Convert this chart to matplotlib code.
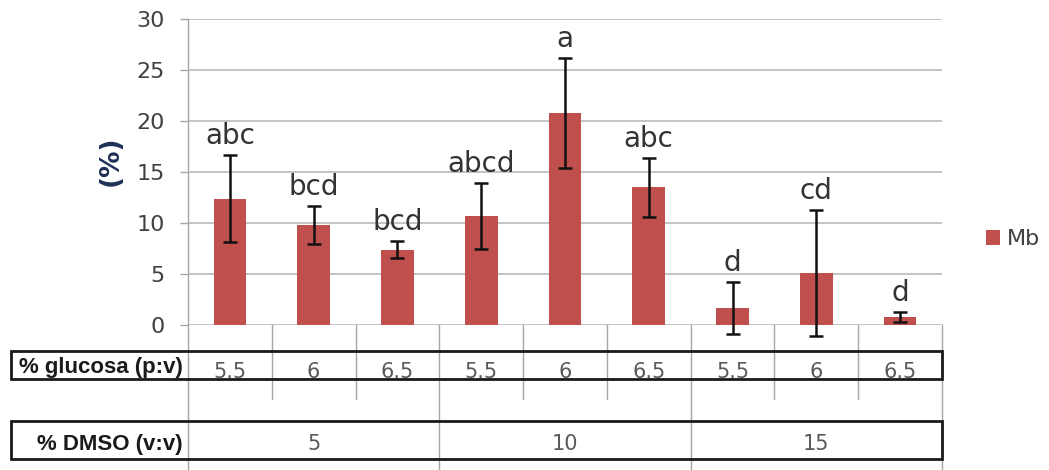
import matplotlib
matplotlib.use("Agg")
import matplotlib.pyplot as plt
import matplotlib.transforms as mtransforms
from matplotlib.patches import Rectangle
from matplotlib.lines import Line2D

# Mb yield per treatment (mean and error), with significance letters
means = [12.4, 9.8, 7.4, 10.7, 20.8, 13.5, 1.7, 5.1, 0.75]
errors = [4.25, 1.9, 0.85, 3.25, 5.4, 2.9, 2.55, 6.2, 0.5]
letters = ["abc", "bcd", "bcd", "abcd", "a", "abc", "d", "cd", "d"]
glucosa = ["5.5", "6", "6.5", "5.5", "6", "6.5", "5.5", "6", "6.5"]
dmso = ["5", "10", "15"]
series_name = "Mb"

W, H = 1049, 470
fig = plt.figure(figsize=(W / 100, H / 100), dpi=100)
ax = fig.add_axes([188 / W, 1 - 325 / H, (942 - 188) / W, (325 - 19) / H])

bar_color = "#C0504D"
grid_color = "#BFBFBF"
sep_color = "#A6A6A6"
text_dark = "#404040"

x = list(range(len(means)))
ax.bar(x, means, width=0.39, color=bar_color, label=series_name, zorder=3)
eb = ax.errorbar(x, means, yerr=errors, fmt="none", ecolor="#111111",
                 elinewidth=1.8, capsize=5, capthick=1.8, zorder=4)
for artist in eb.lines[1]:
    artist.set_clip_on(False)
for coll in eb.lines[2]:
    coll.set_clip_on(False)

for xi, m, e, lab in zip(x, means, errors, letters):
    ax.annotate(lab, (xi, m + e), xytext=(0, 8), textcoords="offset points",
                ha="center", va="baseline", fontsize=20, color="#333333")

ax.set_xlim(-0.5, len(means) - 0.5)
ax.set_ylim(0, 30)
ax.set_yticks(range(0, 31, 5))
ax.yaxis.grid(True, color=grid_color, linewidth=1.3, zorder=0)
ax.set_axisbelow(True)
ax.tick_params(axis="y", direction="out", length=5.8, width=1.0,
               color=sep_color, labelsize=16, labelcolor=text_dark, pad=11)
ax.set_xticks([])
for side in ("top", "right", "bottom"):
    ax.spines[side].set_visible(False)
ax.spines["left"].set_color(sep_color)
ax.spines["left"].set_linewidth(1.0)

# category table below the axis: x in data units, y in figure units
blend = mtransforms.blended_transform_factory(ax.transData, fig.transFigure)
y_zero = 1 - 325 / H
y_minor = 1 - 399 / H
for b in range(len(means) + 1):
    pos = b - 0.5
    major = b % 3 == 0
    y_end = 0.0 if major else y_minor
    fig.add_artist(Line2D([pos, pos], [y_zero, y_end], transform=blend,
                          color=sep_color, linewidth=1.0, zorder=1))

# outlined rows
for top, bottom in ((351, 379), (421, 459)):
    fig.add_artist(Rectangle((11 / W, 1 - bottom / H), (942 - 11) / W,
                             (bottom - top) / H, transform=fig.transFigure,
                             fill=False, edgecolor="#1A1A1A", linewidth=2.0,
                             zorder=5))

for xi, g in zip(x, glucosa):
    fig.text(xi, 1 - 378 / H, g, transform=blend, ha="center", va="baseline",
             fontsize=15, color="#595959")
for k, d in enumerate(dmso):
    fig.text(3 * k + 1, 1 - 450 / H, d, transform=blend, ha="center",
             va="baseline", fontsize=15, color="#595959")

fig.text(183 / W, 1 - 373 / H, "% glucosa (p:v)", ha="right", va="baseline",
         fontsize=16, fontweight="bold", family="Liberation Sans",
         color="#1A1A1A")
fig.text(183 / W, 1 - 450 / H, "% DMSO (v:v)", ha="right", va="baseline",
         fontsize=16, fontweight="bold", family="Liberation Sans",
         color="#1A1A1A")

fig.text(111 / W, 1 - 161 / H, "(%)", rotation=90, ha="center", va="center",
         fontsize=19, fontweight="bold", color="#1F3058")

fig.legend(loc="center left", bbox_to_anchor=(986 / W, 1 - 239 / H),
           frameon=False, fontsize=16, handlelength=0.65, handleheight=0.65,
           handletextpad=0.3, borderpad=0, borderaxespad=0,
           labelcolor=text_dark)

fig.savefig("out.png", dpi=100)
